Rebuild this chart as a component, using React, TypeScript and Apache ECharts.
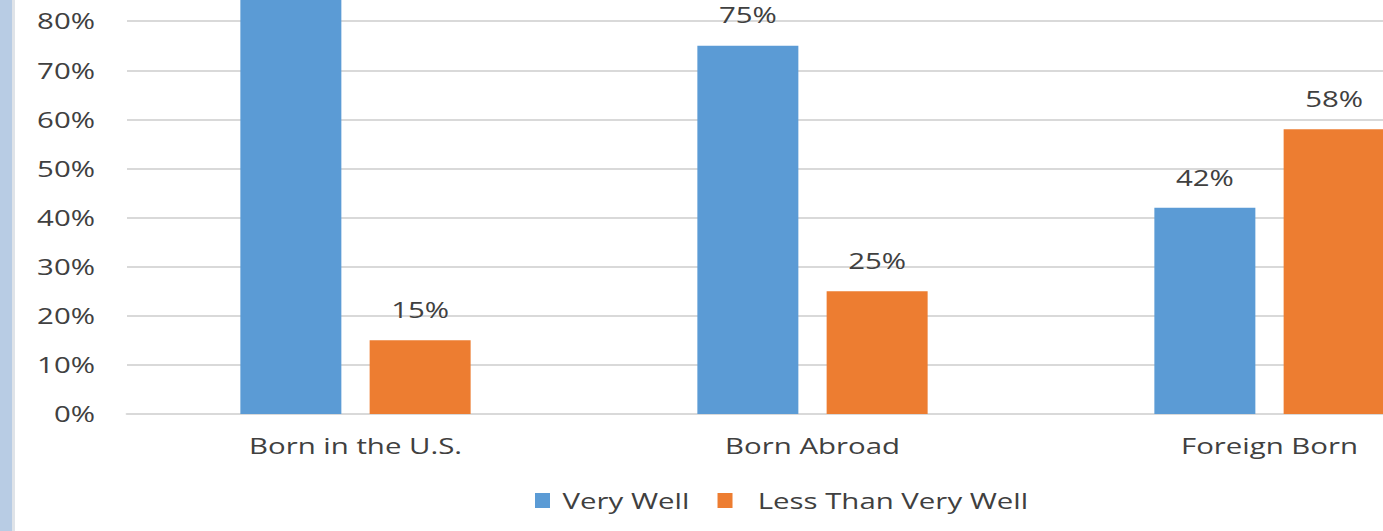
import React, { useEffect, useRef } from "react";
import * as echarts from "echarts";

const categories = ["Born in the U.S.", "Born Abroad", "Foreign Born"];
const veryWell = [85, 75, 42];
const lessThanVeryWell = [15, 25, 58];
const seriesNames = ["Very Well", "Less Than Very Well"];

const FONT = "'Open Sans', 'Noto Sans', sans-serif";
const TXT = "#404040";
const SX = 1.4; // horizontal stretch of the reference rendering
const OFFY = 90; // part of the chart cropped above the viewport
const W = 1071;
const H = 531 + OFFY;

export default function App() {
  const ref = useRef<HTMLDivElement>(null);
  useEffect(() => {
    if (!ref.current) return;
    const chart = echarts.init(ref.current, undefined, { renderer: "svg" });
    const labelOpt = {
      show: true,
      position: "top",
      distance: 20,
      formatter: "{c}%",
      fontFamily: FONT,
      fontSize: 21,
      color: TXT,
    };
    chart.setOption({
      animation: false,
      backgroundColor: "#ffffff",
      textStyle: { fontFamily: FONT },
      graphic: [
        { type: "rect", shape: { x: 0, y: 0, width: 12 / SX, height: H }, style: { fill: "#b8cce4" }, silent: true },
        { type: "rect", shape: { x: 12 / SX, y: 0, width: 3 / SX, height: H }, style: { fill: "#dfe3e8" }, silent: true },
      ],
      legend: {
        data: [
          { name: seriesNames[0], textStyle: { padding: [0, 0, 0, 4] } },
          { name: seriesNames[1], textStyle: { padding: [0, 0, 0, 13] } },
        ],
        left: (535 - 7) / SX,
        top: 485 + OFFY,
        itemWidth: 15 / SX,
        itemHeight: 15,
        itemGap: 20,
        icon: "rect",
        textStyle: { fontFamily: FONT, fontSize: 21, color: TXT },
      },
      grid: { left: 127 / SX, right: W - 127 / SX - (3 * 457) / SX, top: OFFY - 77, bottom: 117, containLabel: false },
      xAxis: {
        type: "category",
        data: categories,
        axisLine: { show: true, lineStyle: { color: "#d9d9d9", width: 2 } },
        axisTick: { show: false },
        axisLabel: { fontFamily: FONT, fontSize: 21, color: TXT, margin: 21 },
      },
      yAxis: {
        type: "value",
        min: 0,
        max: 100,
        interval: 10,
        axisLine: { show: false },
        axisTick: { show: false },
        splitLine: { lineStyle: { color: "#d9d9d9", width: 2 } },
        axisLabel: {
          fontFamily: FONT,
          fontSize: 21,
          color: TXT,
          margin: 32 / SX,
          formatter: (v: number) => (v > 80 ? "" : v + "%"),
        },
      },
      series: [
        {
          name: seriesNames[0],
          type: "bar",
          data: veryWell.map((v) => (v > 80 ? { value: v, label: { show: false } } : v)),
          barWidth: 101 / SX,
          barGap: "28%",
          itemStyle: { color: "#5b9bd5" },
          label: labelOpt,
        },
        {
          name: seriesNames[1],
          type: "bar",
          data: lessThanVeryWell,
          barWidth: 101 / SX,
          itemStyle: { color: "#ed7d31" },
          label: labelOpt,
        },
      ],
    });
    return () => chart.dispose();
  }, []);
  return (
    <div style={{ position: "fixed", left: 0, top: 0, width: 1383, height: 531, overflow: "hidden", background: "#fff" }}>
      <div
        ref={ref}
        style={{
          position: "absolute",
          left: 0,
          top: -OFFY,
          width: W,
          height: H,
          transform: `scaleX(${SX})`,
          transformOrigin: "0 0",
        }}
      />
    </div>
  );
}
